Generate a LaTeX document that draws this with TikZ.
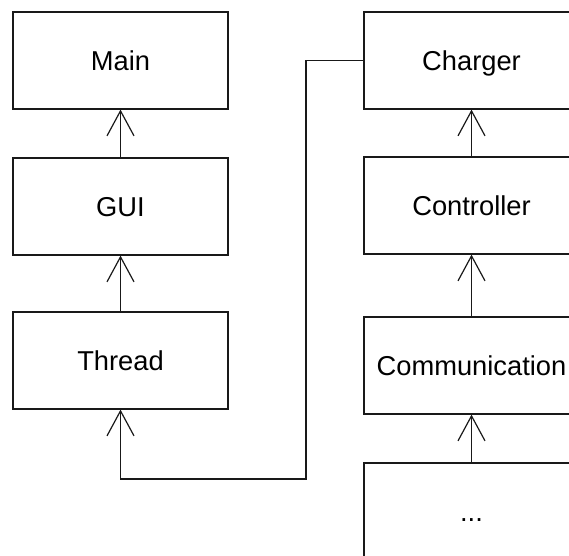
\documentclass[tikz,border=0pt]{standalone}
\usepackage{fontspec}
\setmainfont{Liberation Sans}
\usetikzlibrary{arrows.meta}
\begin{document}
\begin{tikzpicture}[x=1pt,y=-1pt,
  module/.style={draw=black!90, line width=1.2pt, fill=white,
    minimum width=215pt, minimum height=97pt, inner sep=0pt,
    text height=19.3pt, text depth=0pt,
    font=\fontsize{27.3}{32}\selectfont, text=black},
  dep/.style={draw=black!90, line width=1.2pt,
    -{Straight Barb[length=25pt,width=27pt,line width=1.2pt]}}]
  \useasboundingbox (0,0) rectangle (569,555);
  \clip (0,0) rectangle (569,555);
  % left column
  \node[module] (main)   at (120.5,60.5)  {Main};
  \node[module] (gui)    at (120.5,206.5) {GUI};
  \node[module] (thread) at (120.5,360.5) {Thread};
  % right column
  \node[module] (charger) at (471.5,60.5)  {Charger};
  \node[module] (ctrl)    at (471.5,205.5) {Controller};
  \node[module] (comm)    at (471.5,365.5) {Communication};
  \node[module] (more)    at (471.5,511.5) {...};
  % dependencies
  \draw[dep] (gui.north) -- (main.south);
  \draw[dep] (thread.north) -- (gui.south);
  \draw[dep] (ctrl.north) -- (charger.south);
  \draw[dep] (comm.north) -- (ctrl.south);
  \draw[dep] (more.north) -- (comm.south);
  \coordinate (jog) at (306,479);
  \draw[dep] (charger.west) -| (jog) -| (thread.south);
\end{tikzpicture}
\end{document}
